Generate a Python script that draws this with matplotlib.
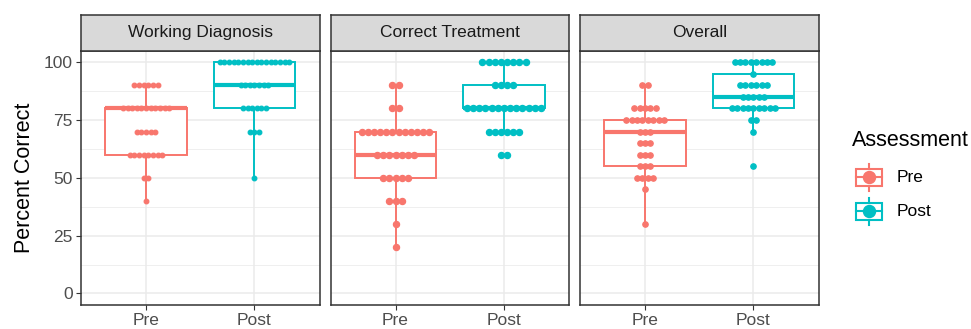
import numpy as np
import matplotlib.pyplot as plt
from matplotlib.patches import Rectangle

plt.rcParams['font.family'] = ['Liberation Sans', 'DejaVu Sans']

panels = ['Working Diagnosis', 'Correct Treatment', 'Overall']
groups = ['Pre', 'Post']
colors = {'Pre': '#F8766D', 'Post': '#00BFC4'}

# score levels and how many students got each score
wd_pre_scores = [40, 50, 60, 70, 80, 90]
wd_pre_counts = [1, 2, 8, 5, 11, 6]
wd_post_scores = [50, 70, 80, 90, 100]
wd_post_counts = [1, 3, 6, 7, 16]

ct_pre_scores = [20, 30, 40, 50, 60, 70, 80, 90]
ct_pre_counts = [1, 1, 3, 5, 7, 12, 2, 2]
ct_post_scores = [60, 70, 80, 90, 100]
ct_post_counts = [2, 6, 13, 4, 8]

ov_pre_scores = [30, 45, 50, 55, 60, 65, 70, 75, 80, 90]
ov_pre_counts = [1, 1, 4, 3, 3, 3, 3, 8, 5, 2]
ov_post_scores = [55, 70, 75, 80, 85, 90, 95, 100]
ov_post_counts = [1, 1, 2, 9, 5, 6, 1, 8]

y_ticks = [0, 25, 50, 75, 100]

panel_data = {
    'Working Diagnosis': {'Pre': (wd_pre_scores, wd_pre_counts), 'Post': (wd_post_scores, wd_post_counts)},
    'Correct Treatment': {'Pre': (ct_pre_scores, ct_pre_counts), 'Post': (ct_post_scores, ct_post_counts)},
    'Overall': {'Pre': (ov_pre_scores, ov_pre_counts), 'Post': (ov_post_scores, ov_post_counts)},
}

W, H = 971, 329
DPI = 100
fig = plt.figure(figsize=(W / DPI, H / DPI), dpi=DPI)

# layout in pixels
panel_left = [81, 330.5, 580]
panel_w = 238.5
panel_top, panel_bot, strip_top = 50.7, 305, 15

border = '#333333'
grid_c = '#EBEBEB'

for i, name in enumerate(panels):
    ax = fig.add_axes([panel_left[i] / W, (H - panel_bot) / H,
                       panel_w / W, (panel_bot - panel_top) / H])
    ax.set_xlim(0.4, 2.6)
    ax.set_ylim(-5, 105)
    ax.set_xticks([1, 2])
    ax.set_xticklabels(groups)
    ax.set_yticks(y_ticks)
    ax.set_yticks([12.5, 37.5, 62.5, 87.5], minor=True)
    ax.set_axisbelow(True)
    ax.grid(which='major', color=grid_c, lw=1.1)
    ax.grid(which='minor', axis='y', color=grid_c, lw=0.55)
    ax.tick_params(which='minor', length=0)
    ax.tick_params(which='major', length=3.6, width=0.8, color=border,
                   labelsize=12.5, labelcolor='#4D4D4D', pad=2.5)
    for s in ax.spines.values():
        s.set_color(border)
        s.set_linewidth(1.1)
    if i > 0:
        ax.tick_params(axis='y', left=False, labelleft=False)
    else:
        ax.set_ylabel('Percent Correct', fontsize=15.5, labelpad=6)

    # boxplots
    raw = [np.repeat(*panel_data[name][g]) for g in groups]
    bp = ax.boxplot(raw, positions=[1, 2], widths=0.75, whis=1.5,
                    showfliers=False, showcaps=False, patch_artist=True,
                    manage_ticks=False)
    for j, g in enumerate(groups):
        c = colors[g]
        bp['boxes'][j].set(facecolor='white', edgecolor=c, linewidth=1.4, zorder=2)
        bp['medians'][j].set(color=c, linewidth=3.0, zorder=2.1, solid_capstyle='butt')
        for wk in bp['whiskers'][2 * j:2 * j + 2]:
            wk.set(color=c, linewidth=1.4, zorder=2)

    # dotplot, binwidth = range/30 of the panel data
    allv = np.concatenate(raw)
    binwidth = (allv.max() - allv.min()) / 30.0
    p0 = ax.transData.transform([0, 0])
    p1 = ax.transData.transform([1, 1])
    px_x, px_y = p1 - p0
    dia_px = binwidth * px_y
    dx = dia_px / px_x
    dia_pt = dia_px * 72 / DPI
    for j, g in enumerate(groups):
        scores, counts = panel_data[name][g]
        xs, ys = [], []
        for v, n in zip(scores, counts):
            for k in range(n):
                xs.append(j + 1 + (k - (n - 1) / 2) * dx)
                ys.append(v)
        ax.scatter(xs, ys, s=dia_pt ** 2, color=colors[g], edgecolors=colors[g],
                   linewidths=0.9, zorder=3)

    # facet strip
    sax = fig.add_axes([panel_left[i] / W, (H - panel_top) / H,
                        panel_w / W, (panel_top - strip_top) / H])
    sax.set_facecolor('#D9D9D9')
    sax.set_xticks([])
    sax.set_yticks([])
    for s in sax.spines.values():
        s.set_color(border)
        s.set_linewidth(1.1)
    sax.text(0.5, 0.5, name, ha='center', va='center', fontsize=12.5,
             color='#1A1A1A', transform=sax.transAxes)

# legend drawn in pixel space
lax = fig.add_axes([0, 0, 1, 1])
lax.set_xlim(0, W)
lax.set_ylim(H, 0)
lax.axis('off')
lax.text(852, 141, 'Assessment', ha='left', va='center', fontsize=15.5, color='black')
key_cy = [177, 211]
for g, cy in zip(groups, key_cy):
    c = colors[g]
    lax.add_patch(Rectangle((856, cy - 8.5), 26, 17, facecolor='white',
                            edgecolor=c, lw=1.5))
    lax.plot([869, 869], [cy - 13.5, cy - 8.5], color=c, lw=1.5)
    lax.plot([869, 869], [cy + 8.5, cy + 13.5], color=c, lw=1.5)
    lax.plot([856, 882], [cy, cy], color=c, lw=1.5)
    lax.scatter([869], [cy], s=(12 * 72 / DPI) ** 2, color=c, zorder=3)
    lax.text(897, cy, g, ha='left', va='center', fontsize=12.5, color='black')

fig.savefig('out.png', dpi=DPI)
